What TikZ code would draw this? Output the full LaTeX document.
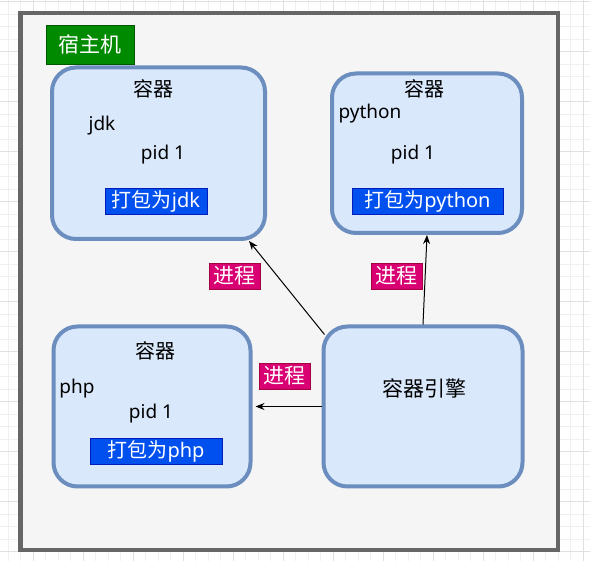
\documentclass[tikz,border=0pt]{standalone}
\usepackage{fontspec}
\usetikzlibrary{arrows.meta}
\setmainfont{Noto Sans}
\newfontfamily\cjk{Noto Sans CJK SC}
\definecolor{hostfill}{HTML}{F5F5F5}
\definecolor{hostline}{HTML}{666666}
\definecolor{boxfill}{HTML}{DAE8FC}
\definecolor{boxline}{HTML}{6C8EBF}
\definecolor{hostlabel}{HTML}{008A00}
\definecolor{hostlabelline}{HTML}{005700}
\definecolor{pkgfill}{HTML}{0050EF}
\definecolor{pkgline}{HTML}{001DBC}
\definecolor{procfill}{HTML}{D80073}
\definecolor{procline}{HTML}{A50040}
\begin{document}
\begin{tikzpicture}[x=1pt,y=-1pt,
    container/.style={draw=boxline, fill=boxfill, line width=4pt, rounded corners=24pt, inner sep=0pt},
    txt/.style={inner sep=0pt, font=\fontsize{19}{21}\selectfont},
    title/.style={inner sep=0pt, font=\fontsize{20}{22}\selectfont\cjk},
    pkgtag/.style={draw=pkgline, fill=pkgfill, text=white, inner sep=0pt, minimum height=26pt, font=\fontsize{20}{22}\selectfont},
    proctag/.style={draw=procline, fill=procfill, text=white, inner sep=0pt, minimum width=51pt, minimum height=26pt, font=\fontsize{21}{22}\selectfont\cjk},
    process/.style={-{Stealth[length=9pt,width=7pt]}, line width=1pt}]
    \useasboundingbox (0,0) rectangle (590,561);
    \fill[white] (0,0) rectangle (590,561);
    % grid
    \foreach \x in {8.3,20.8,...,590} \draw[line width=0.7pt, black!6] (\x,0) -- (\x,561);
    \foreach \y in {1.7,14.2,...,561} \draw[line width=0.7pt, black!6] (0,\y) -- (590,\y);
    \foreach \x in {33.3,83.3,...,590} \draw[line width=0.7pt, black!12] (\x,0) -- (\x,561);
    \foreach \y in {1.7,51.7,...,561} \draw[line width=0.7pt, black!12] (0,\y) -- (590,\y);
    % host
    \draw[line width=4.5pt, draw=hostline, fill=hostfill] (20.5,13) rectangle (558,550);
    \node[draw=hostlabelline, fill=hostlabel, text=white, inner sep=0pt, minimum width=88pt, minimum height=39pt, font=\fontsize{21}{22}\selectfont\cjk] (host) at (90.3,44.5) {宿主机};
    % containers
    \node[container, minimum width=213pt, minimum height=171.5pt] (jdk) at (158.5,153.25) {};
    \node[title] (jdktitle) at (153,89) {容器};
    \node[txt] (jdkname) at (102,126) {jdk};
    \node[txt] (jdkpid) at (163,155) {pid 1};
    \node[pkgtag, minimum width=102pt] (jdkpkg) at (156,201) {{\cjk 打包为}jdk};

    \node[container, minimum width=190pt, minimum height=159.5pt] (python) at (427,153.25) {};
    \node[title] (pytitle) at (424,89) {容器};
    \node[txt] (pyname) at (370,114) {python};
    \node[txt] (pypid) at (413,155) {pid 1};
    \node[pkgtag, minimum width=151pt] (pypkg) at (427.5,201) {{\cjk 打包为}python};

    \node[container, minimum width=197pt, minimum height=160pt] (php) at (152,406.5) {};
    \node[title] (phptitle) at (155,351) {容器};
    \node[txt] (phpname) at (77,389) {php};
    \node[txt] (phppid) at (151,414) {pid 1};
    \node[pkgtag, minimum width=132pt] (phppkg) at (156,451) {{\cjk 打包为}php};

    \node[container, minimum width=199pt, minimum height=160pt] (engine) at (423,406.5) {};
    \node[inner sep=0pt, font=\fontsize{21}{22}\selectfont\cjk] (enginetitle) at (424.5,388) {容器引擎};
    % processes
    \draw[process] ([xshift=3pt,yshift=-10pt]engine.north west) -- ([xshift=-18pt]jdk.south east);
    \draw[process] (engine.north) -- (python.south);
    \draw[process] (engine.west) -- ([xshift=3pt]php.east);
    \node[proctag] (proc1) at (234.5,276) {进程};
    \node[proctag] (proc2) at (396.5,276) {进程};
    \node[proctag] (proc3) at (284.5,376) {进程};
\end{tikzpicture}
\end{document}
